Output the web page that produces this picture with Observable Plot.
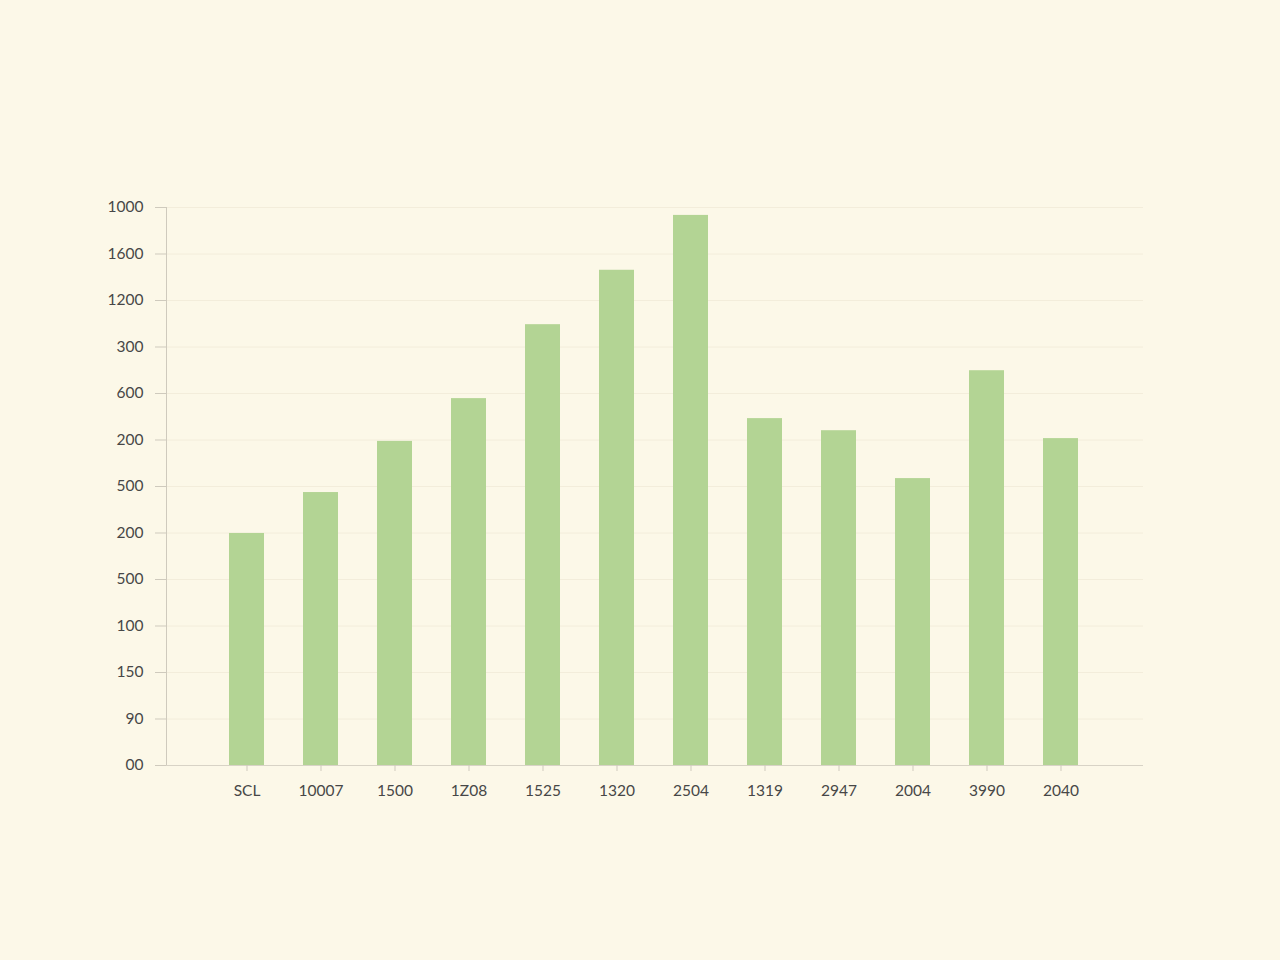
<!DOCTYPE html>
<html>
<head>
<meta charset="utf-8">
<script src="https://cdn.jsdelivr.net/npm/d3@7"></script>
<script src="https://cdn.jsdelivr.net/npm/@observablehq/plot@0.6"></script>
<style>
  html, body { margin: 0; padding: 0; background: #fcf8e8; }
  #chart svg { display: block; }
</style>
</head>
<body>
<div id="chart"></div>
<script>
const categories = ["SCL", "10007", "1500", "1Z08", "1525", "1320", "2504", "1319", "2947", "2004", "3990", "2040"];
const values = [499, 587, 697, 789, 948, 1065, 1183, 746, 720, 617, 849, 703];
const yTickValues = [0, 100, 200, 300, 400, 500, 600, 700, 800, 900, 1000, 1100, 1200];
const yTickLabels = ["00", "90", "150", "100", "500", "200", "500", "200", "600", "300", "1200", "1600", "1000"];

const data = categories.map((c, i) => ({category: c, value: values[i]}));
const labelFor = new Map(yTickValues.map((v, i) => [v, yTickLabels[i]]));

const chart = Plot.plot({
  width: 1280,
  height: 960,
  marginTop: 207,
  marginBottom: 195,
  marginLeft: 155,
  marginRight: 137,
  style: {background: "#fcf8e8", fontFamily: "Lato, 'Open Sans', sans-serif", fontSize: "15.5px", color: "#474747"},
  x: {type: "band", domain: categories, paddingInner: 0.53, paddingOuter: 0.81, align: 0.49, insetLeft: 11, label: null},
  y: {domain: [0, 1200], label: null},
  marks: [
    Plot.gridY(yTickValues, {stroke: "#ece6d2", strokeOpacity: 0.6, insetLeft: 11}),
    Plot.barY(data, {x: "category", y: "value", fill: "#b3d494"}),
    Plot.frame({anchor: "left", stroke: "#cfcabd", dx: 11}),
    Plot.ruleY([0], {stroke: "#d8d3c6"}),
    Plot.axisY({ticks: yTickValues, tickFormat: d => labelFor.get(d), tickSize: 11, tickPadding: 12, dx: 11, stroke: "#cfcabd", fill: "#474747", fontSize: 15.5}),
    Plot.axisX({tickSize: 6, tickPadding: 13, stroke: "#cfcabd", fill: "#474747", fontSize: 15.5})
  ]
});
document.getElementById("chart").appendChild(chart);
</script>
</body>
</html>
